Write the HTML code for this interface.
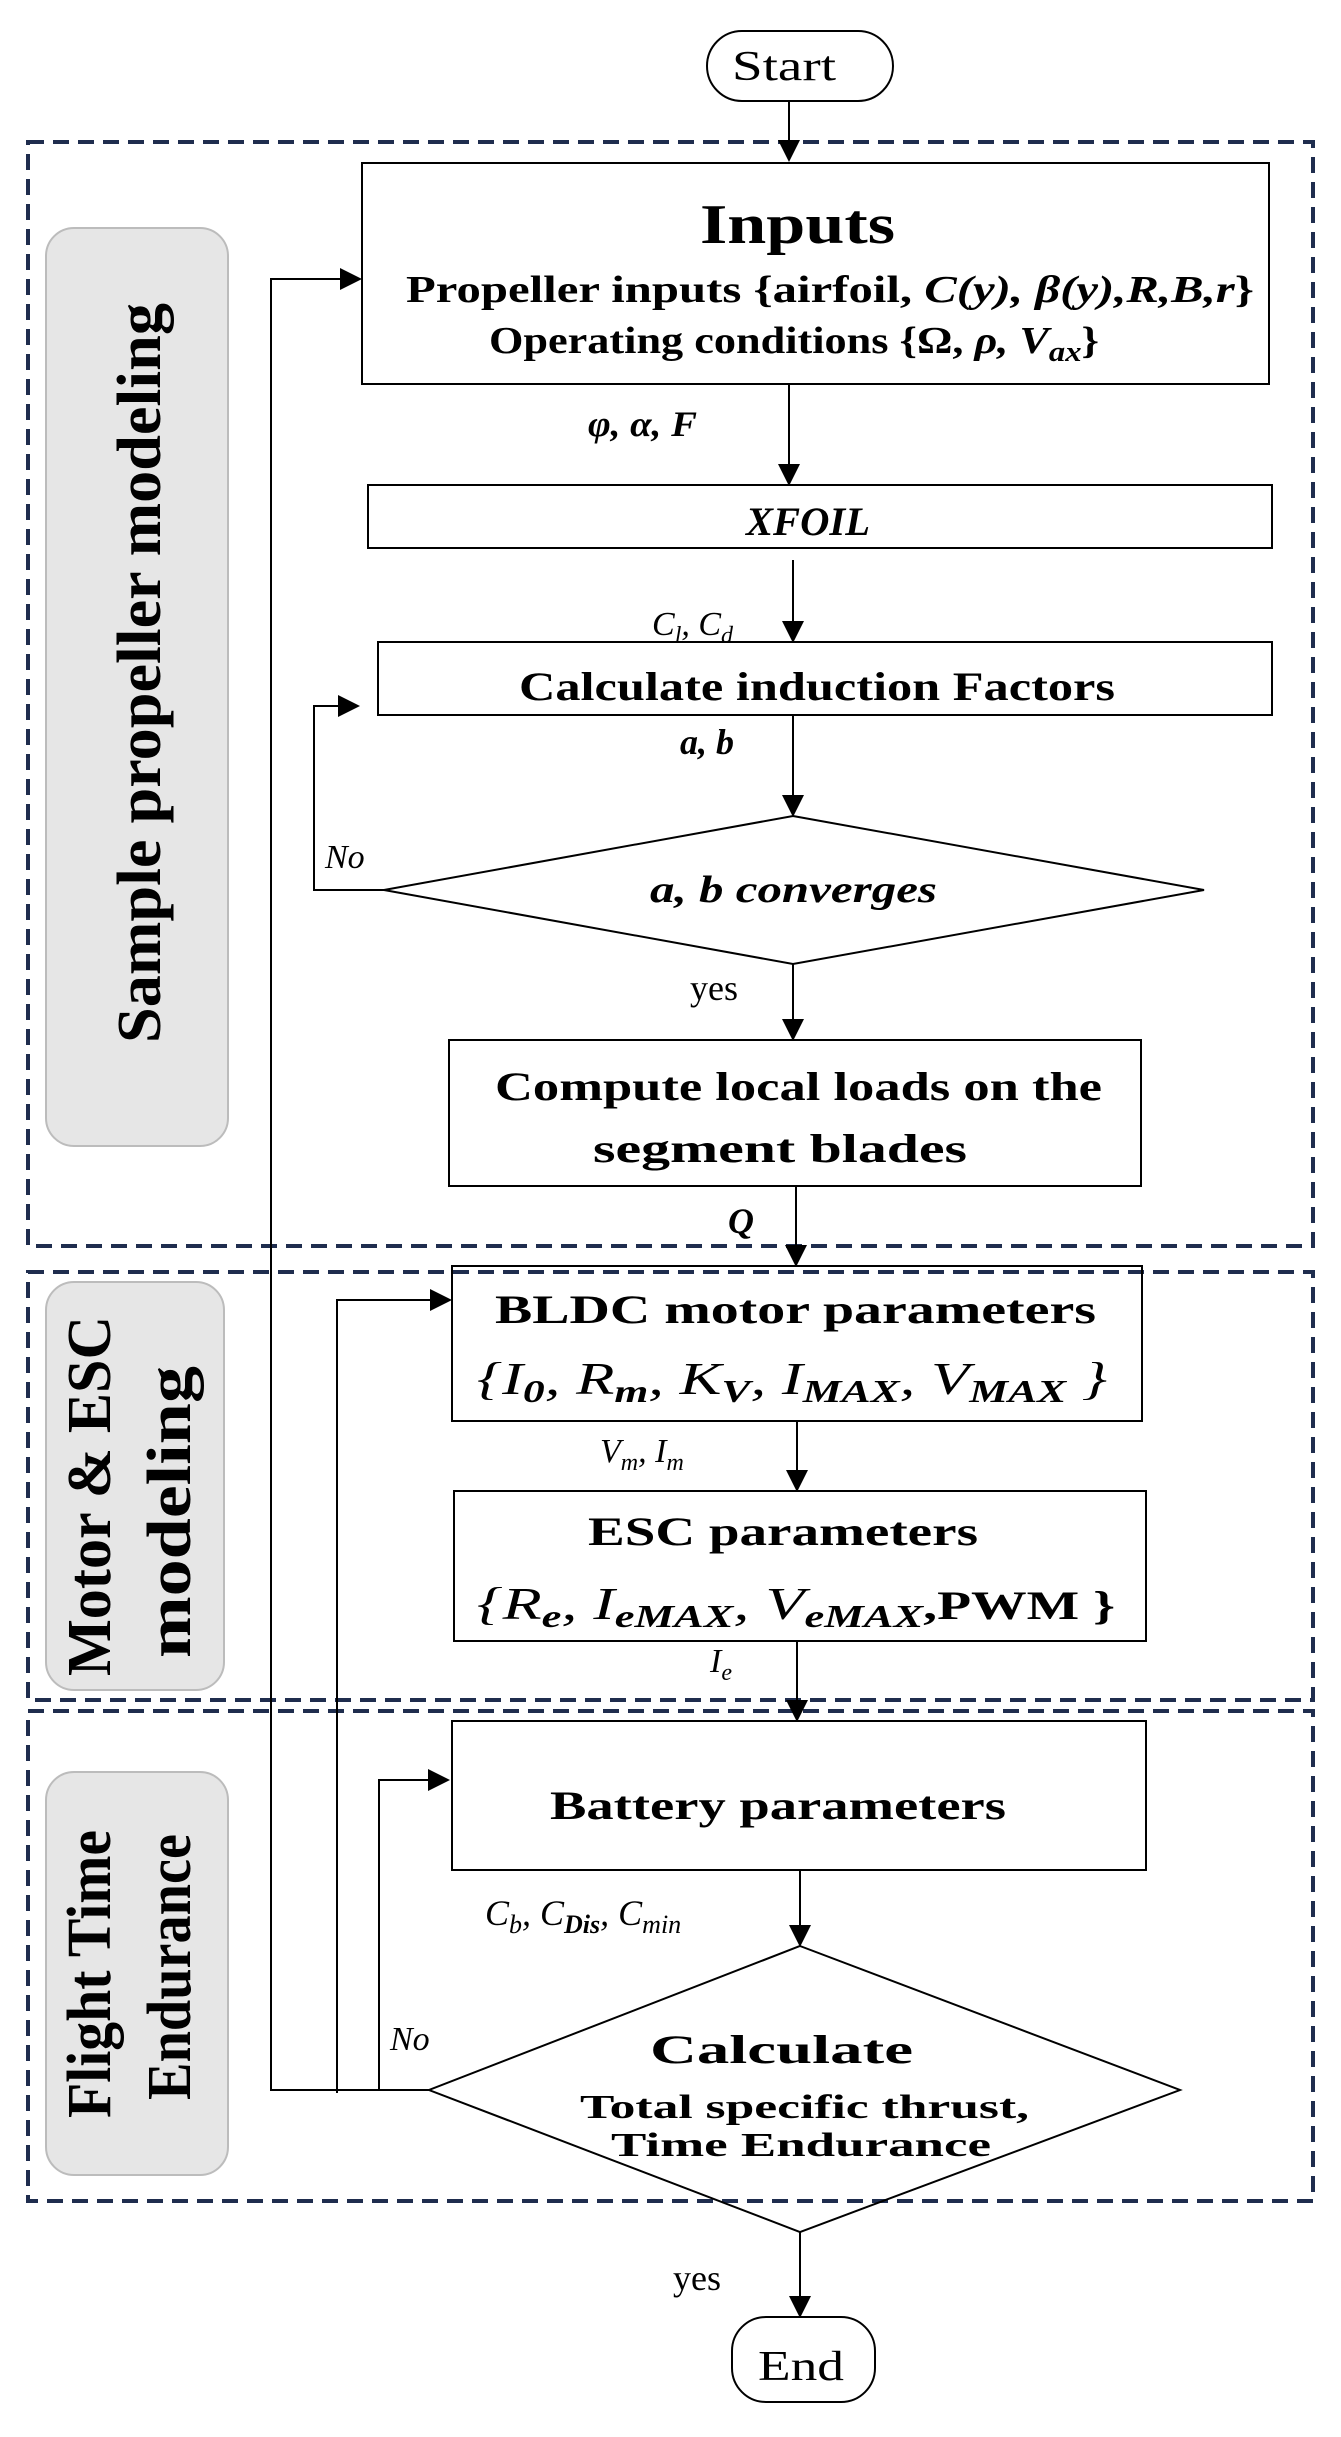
<!DOCTYPE html>
<html><head><meta charset="utf-8"><style>
html,body{margin:0;padding:0;background:#fff}
svg{display:block}
text{font-family:"Liberation Serif",serif;fill:#000}
.b{font-weight:bold}
.i{font-style:italic}
</style></head><body>
<svg width="1341" height="2437" viewBox="0 0 1341 2437" xmlns="http://www.w3.org/2000/svg">
<defs>
<marker id="a2" markerWidth="22" markerHeight="22" refX="20" refY="11" orient="auto" markerUnits="userSpaceOnUse" viewBox="0 0 22 22">
<path d="M0,0 L22,11 L0,22 z" fill="#000"/></marker>
</defs>
<g fill="none" stroke="#1f2d4e" stroke-width="4" stroke-dasharray="16,9">
<rect x="28" y="142" width="1285" height="1104"/>
<rect x="28" y="1272" width="1285" height="428"/>
<rect x="28" y="1711" width="1285" height="490"/>
</g>
<g fill="#e6e6e6" stroke="#bcbcbc" stroke-width="2">
<rect x="46" y="228" width="182" height="918" rx="28"/>
<rect x="46" y="1282" width="178" height="408" rx="28"/>
<rect x="46" y="1772" width="182" height="403" rx="28"/>
</g>
<g class="b" font-size="62" text-anchor="middle">
<text transform="translate(160,673) rotate(-90)" class="b" textLength="740" lengthAdjust="spacingAndGlyphs">Sample propeller modeling</text>
<text transform="translate(110,1496) rotate(-90)" class="b" textLength="360" lengthAdjust="spacingAndGlyphs">Motor &amp; ESC</text>
<text transform="translate(190,1512) rotate(-90)" class="b" textLength="292" lengthAdjust="spacingAndGlyphs">modeling</text>
<text transform="translate(110,1974) rotate(-90)" class="b" textLength="288" lengthAdjust="spacingAndGlyphs">Flight Time</text>
<text transform="translate(190,1967) rotate(-90)" class="b" textLength="266" lengthAdjust="spacingAndGlyphs">Endurance</text>
</g>
<g fill="none" stroke="#000" stroke-width="2">
<rect x="707" y="31" width="186" height="70" rx="35"/>
<rect x="362" y="163" width="907" height="221"/>
<rect x="368" y="485" width="904" height="63"/>
<rect x="378" y="642" width="894" height="73"/>
<polygon points="793,816 1204,890 793,964 384,890"/>
<rect x="449" y="1040" width="692" height="146"/>
<rect x="452" y="1266" width="690" height="155"/>
<rect x="454" y="1491" width="692" height="150"/>
<rect x="452" y="1721" width="694" height="149"/>
<polygon points="800,1946 1180,2090 800,2232 429,2090"/>
<rect x="732" y="2317" width="143" height="85" rx="34"/>
</g>
<g stroke="#000" stroke-width="2" fill="none">
<line x1="789" y1="101" x2="789" y2="160" marker-end="url(#a2)"/>
<line x1="789" y1="384" x2="789" y2="484" marker-end="url(#a2)"/>
<line x1="793" y1="560" x2="793" y2="641" marker-end="url(#a2)"/>
<line x1="793" y1="715" x2="793" y2="815" marker-end="url(#a2)"/>
<line x1="793" y1="964" x2="793" y2="1039" marker-end="url(#a2)"/>
<line x1="796" y1="1186" x2="796" y2="1265" marker-end="url(#a2)"/>
<line x1="797" y1="1421" x2="797" y2="1490" marker-end="url(#a2)"/>
<line x1="797" y1="1641" x2="797" y2="1720" marker-end="url(#a2)"/>
<line x1="800" y1="1870" x2="800" y2="1945" marker-end="url(#a2)"/>
<line x1="800" y1="2232" x2="800" y2="2316" marker-end="url(#a2)"/>
<polyline points="384,890 314,890 314,706 358,706" marker-end="url(#a2)"/>
<polyline points="429,2090 271,2090 271,279 360,279" marker-end="url(#a2)"/>
<polyline points="337,2093 337,1300 450,1300" marker-end="url(#a2)"/>
<polyline points="379,2090 379,1780 448,1780" marker-end="url(#a2)"/>
</g>
<g>
<text x="732" y="80" font-size="42" textLength="104" lengthAdjust="spacingAndGlyphs">Start</text>
<text x="700" y="243" font-size="56" class="b" textLength="195" lengthAdjust="spacingAndGlyphs">Inputs</text>
<text x="406" y="302" font-size="38" class="b" textLength="848" lengthAdjust="spacingAndGlyphs">Propeller inputs {airfoil, <tspan class="i">C(y), β(y),R,B,r</tspan>}</text>
<text x="489" y="353" font-size="38" class="b" textLength="610" lengthAdjust="spacingAndGlyphs">Operating conditions {Ω, <tspan class="i">ρ, V<tspan font-size="28" dy="8">ax</tspan></tspan><tspan dy="-8">}</tspan></text>
<text x="746" y="535" font-size="40" class="b i" textLength="124" lengthAdjust="spacingAndGlyphs">XFOIL</text>
<text x="519" y="700" font-size="40" class="b" textLength="596" lengthAdjust="spacingAndGlyphs">Calculate induction Factors</text>
<text x="650" y="902" font-size="38" class="b i" textLength="287" lengthAdjust="spacingAndGlyphs">a, b converges</text>
<text x="495" y="1100" font-size="40" class="b" textLength="607" lengthAdjust="spacingAndGlyphs">Compute local loads on the</text>
<text x="593" y="1162" font-size="40" class="b" textLength="374" lengthAdjust="spacingAndGlyphs">segment blades</text>
<text x="495" y="1323" font-size="40" class="b" textLength="601" lengthAdjust="spacingAndGlyphs">BLDC motor parameters</text>
<text x="477" y="1394" font-size="46" class="i" textLength="630" lengthAdjust="spacingAndGlyphs">{I<tspan font-size="32" dy="8" class="b">0</tspan><tspan dy="-8">, R</tspan><tspan font-size="32" dy="8" class="b">m</tspan><tspan dy="-8">, K</tspan><tspan font-size="32" dy="8" class="b">V</tspan><tspan dy="-8">, I</tspan><tspan font-size="32" dy="8" class="b">MAX</tspan><tspan dy="-8">, V</tspan><tspan font-size="32" dy="8" class="b">MAX</tspan><tspan dy="-8"> }</tspan></text>
<text x="588" y="1545" font-size="40" class="b" textLength="390" lengthAdjust="spacingAndGlyphs">ESC parameters</text>
<text x="477" y="1619" font-size="46" class="i" textLength="638" lengthAdjust="spacingAndGlyphs">{R<tspan font-size="32" dy="8" class="b">e</tspan><tspan dy="-8">, I</tspan><tspan font-size="32" dy="8" class="b">eMAX</tspan><tspan dy="-8">, V</tspan><tspan font-size="32" dy="8" class="b">eMAX</tspan><tspan dy="-8" font-style="normal" font-weight="bold" font-size="40">,PWM }</tspan></text>
<text x="550" y="1819" font-size="40" class="b" textLength="456" lengthAdjust="spacingAndGlyphs">Battery parameters</text>
<text x="650" y="2063" font-size="40" class="b" textLength="263" lengthAdjust="spacingAndGlyphs">Calculate</text>
<text x="580" y="2118" font-size="34" class="b" textLength="449" lengthAdjust="spacingAndGlyphs">Total specific thrust,</text>
<text x="611" y="2156" font-size="34" class="b" textLength="380" lengthAdjust="spacingAndGlyphs">Time Endurance</text>
<text x="758" y="2380" font-size="42" textLength="86" lengthAdjust="spacingAndGlyphs">End</text>
</g>
<text x="588" y="436" font-size="36" class="b i" textLength="109" lengthAdjust="spacingAndGlyphs">φ, α, F</text>
<text x="652" y="635" font-size="34" class="i">C<tspan font-size="24" dy="8">l</tspan><tspan dy="-8">, C</tspan><tspan font-size="24" dy="8">d</tspan></text>
<text x="680" y="754" font-size="36" class="b i">a, b</text>
<text x="325" y="868" font-size="34" class="i">No</text>
<text x="690" y="1000" font-size="36">yes</text>
<text x="728" y="1233" font-size="36" class="b i">Q</text>
<text x="600" y="1462" font-size="34" class="i">V<tspan font-size="24" dy="8">m</tspan><tspan dy="-8">, I</tspan><tspan font-size="24" dy="8">m</tspan></text>
<text x="710" y="1672" font-size="34" class="i">I<tspan font-size="24" dy="8">e</tspan></text>
<text x="485" y="1925" font-size="36" class="i">C<tspan font-size="26" dy="8">b</tspan><tspan dy="-8">, C</tspan><tspan font-size="26" dy="8" class="b">Dis</tspan><tspan dy="-8">, C</tspan><tspan font-size="26" dy="8">min</tspan></text>
<text x="390" y="2050" font-size="34" class="i">No</text>
<text x="673" y="2290" font-size="36">yes</text>
</svg>
</body></html>
